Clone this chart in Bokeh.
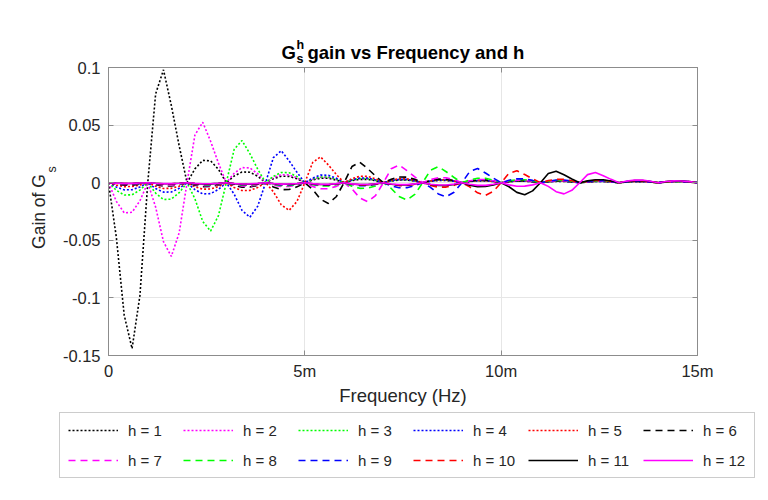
from bokeh.plotting import figure
from bokeh.layouts import column, row
from bokeh.models import Legend, LegendItem, LinearAxis, FixedTicker, Range1d
from bokeh.core.properties import value
from bokeh.embed import file_html
from bokeh.resources import INLINE

# ---- data (frequency in mHz, gain) ----
freq_mhz = [0, 0.2, 0.4, 0.6, 0.8, 1, 1.2, 1.4, 1.6, 1.8, 2, 2.2, 2.4, 2.6, 2.8,
            3, 3.2, 3.4, 3.6, 3.8, 4, 4.2, 4.4, 4.6, 4.8, 5, 5.2, 5.4, 5.6, 5.8,
            6, 6.2, 6.4, 6.6, 6.8, 7, 7.2, 7.4, 7.6, 7.8, 8, 8.2, 8.4, 8.6, 8.8,
            9, 9.2, 9.4, 9.6, 9.8, 10, 10.2, 10.4, 10.6, 10.8, 11, 11.2, 11.4, 11.6, 11.8,
            12, 12.2, 12.4, 12.6, 12.8, 13, 13.2, 13.4, 13.6, 13.8, 14, 14.2, 14.4, 14.6, 14.8, 15]

gain_h1 = [0, -0.0475, -0.115, -0.144, -0.098, 0, 0.077, 0.098, 0.067, 0.032,
           0, 0.012, 0.0194, 0.019, 0.0116, 0, 0.0058, 0.0093, 0.0091, 0.0056,
           0, 0.0035, 0.0056, 0.0055, 0.0034, 0, 0.0024, 0.0039, 0.0038, 0.0023,
           0, 0.0018, 0.0029, 0.0029, 0.0017, 0, 0.0014, 0.0023, 0.0023, 0.0014,
           0, 0.0012, 0.0019, 0.0019, 0.0012, 0, 0.001, 0.0016, 0.0016, 0.001,
           0, 0.0008, 0.0014, 0.0013, 0.0008, 0, 0.0007, 0.0012, 0.0011, 0.0007,
           0, 0.0006, 0.001, 0.001, 0.0006, 0, 0.0005, 0.0009, 0.0009, 0.0005,
           0, 0.0005, 0.0008, 0.0008, 0.0005, 0]
gain_h2 = [0, -0.0162, -0.0262, -0.0257, -0.0157, 0, -0.0211, -0.0512, -0.064, -0.0435,
           0, 0.0413, 0.0525, 0.036, 0.017, 0, 0.0081, 0.0131, 0.0128, 0.0078,
           0, 0.0043, 0.007, 0.0068, 0.0042, 0, 0.0029, 0.0047, 0.0046, 0.0028,
           0, 0.0021, 0.0034, 0.0033, 0.002, 0, 0.0016, 0.0026, 0.0026, 0.0016,
           0, 0.0013, 0.0021, 0.0021, 0.0013, 0, 0.0011, 0.0017, 0.0017, 0.001,
           0, 0.0009, 0.0015, 0.0014, 0.0009, 0, 0.0008, 0.0013, 0.0012, 0.0008,
           0, 0.0007, 0.0011, 0.001, 0.0006, 0, 0.0006, 0.001, 0.001, 0.0006,
           0, 0.0005, 0.0009, 0.0009, 0.0005, 0]
gain_h3 = [0, -0.0066, -0.0107, -0.0105, -0.0064, 0, -0.009, -0.0146, -0.0143, -0.0087,
           0, -0.0139, -0.0336, -0.042, -0.0286, 0, 0.0289, 0.0366, 0.0252, 0.0118,
           0, 0.0055, 0.0089, 0.0087, 0.0053, 0, 0.0031, 0.005, 0.0049, 0.003,
           0, 0.0022, 0.0036, 0.0035, 0.0021, 0, 0.0017, 0.0027, 0.0027, 0.0016,
           0, 0.0014, 0.0022, 0.0022, 0.0013, 0, 0.0011, 0.0018, 0.0018, 0.0011,
           0, 0.001, 0.0016, 0.0015, 0.0009, 0, 0.0008, 0.0013, 0.0012, 0.0008,
           0, 0.0007, 0.0012, 0.0011, 0.0007, 0, 0.0006, 0.001, 0.001, 0.0006,
           0, 0.0005, 0.0009, 0.0009, 0.0005, 0]
gain_h4 = [0, -0.0038, -0.0062, -0.0061, -0.0037, 0, -0.0051, -0.0082, -0.0081, -0.0049,
           0, -0.006, -0.0097, -0.0095, -0.0058, 0, -0.0099, -0.024, -0.030, -0.0204,
           0, 0.0218, 0.0277, 0.019, 0.009, 0, 0.0041, 0.0066, 0.0065, 0.0039,
           0, 0.0025, 0.0041, 0.004, 0.0024, 0, 0.0018, 0.0029, 0.0029, 0.0017,
           0, 0.0014, 0.0023, 0.0023, 0.0014, 0, 0.0012, 0.0019, 0.0019, 0.0012,
           0, 0.001, 0.0016, 0.0015, 0.0009, 0, 0.0008, 0.0014, 0.0013, 0.0008,
           0, 0.0007, 0.0012, 0.0011, 0.0007, 0, 0.0007, 0.0011, 0.001, 0.0006,
           0, 0.0006, 0.001, 0.001, 0.0006, 0]
gain_h5 = [0, -0.0021, -0.0034, -0.0033, -0.002, 0, -0.0031, -0.005, -0.0049, -0.003,
           0, -0.0035, -0.0056, -0.0055, -0.0034, 0, -0.0042, -0.0068, -0.0067, -0.0041,
           0, -0.0079, -0.0192, -0.024, -0.0163, 0, 0.0176, 0.0224, 0.0154, 0.0072,
           0, 0.0035, 0.0056, 0.0055, 0.0034, 0, 0.0022, 0.0035, 0.0034, 0.0021,
           0, 0.0016, 0.0026, 0.0026, 0.0016, 0, 0.0013, 0.002, 0.002, 0.0012,
           0, 0.0011, 0.0017, 0.0017, 0.001, 0, 0.0009, 0.0015, 0.0014, 0.0009,
           0, 0.0008, 0.0013, 0.0012, 0.0008, 0, 0.0007, 0.0011, 0.001, 0.0006,
           0, 0.0006, 0.001, 0.001, 0.0006, 0]
gain_h6 = [0, -0.0013, -0.0021, -0.0021, -0.0013, 0, -0.0018, -0.0029, -0.0029, -0.0017,
           0, -0.0021, -0.0034, -0.0033, -0.002, 0, -0.0024, -0.0039, -0.0038, -0.0023,
           0, -0.0037, -0.006, -0.0059, -0.0036, 0, -0.0059, -0.0144, -0.018, -0.0122,
           0, 0.014, 0.0178, 0.0122, 0.0058, 0, 0.003, 0.0049, 0.0048, 0.0029,
           0, 0.0019, 0.0031, 0.003, 0.0019, 0, 0.0014, 0.0023, 0.0023, 0.0014,
           0, 0.0011, 0.0018, 0.0018, 0.0011, 0, 0.001, 0.0016, 0.0015, 0.0009,
           0, 0.0008, 0.0014, 0.0013, 0.0008, 0, 0.0007, 0.0012, 0.0011, 0.0007,
           0, 0.0007, 0.0011, 0.001, 0.0006, 0]
gain_h7 = [0, -0.001, -0.0016, -0.0015, -0.0009, 0, -0.0013, -0.0021, -0.0021, -0.0013,
           0, -0.0016, -0.0025, -0.0025, -0.0015, 0, -0.0018, -0.0029, -0.0029, -0.0017,
           0, -0.002, -0.0033, -0.0032, -0.002, 0, -0.0033, -0.0053, -0.0052, -0.0032,
           0, -0.0054, -0.0132, -0.0165, -0.0112, 0, 0.0121, 0.0153, 0.0105, 0.005,
           0, 0.0027, 0.0044, 0.0043, 0.0026, 0, 0.0017, 0.0028, 0.0028, 0.0017,
           0, 0.0013, 0.0021, 0.0021, 0.0013, 0, 0.0011, 0.0017, 0.0017, 0.001,
           0, 0.0009, 0.0015, 0.0014, 0.0009, 0, 0.0008, 0.0013, 0.0012, 0.0008,
           0, 0.0007, 0.0011, 0.001, 0.0006, 0]
gain_h8 = [0, -0.0007, -0.0012, -0.0011, -0.0007, 0, -0.001, -0.0016, -0.0016, -0.001,
           0, -0.0012, -0.0019, -0.0019, -0.0012, 0, -0.0014, -0.0022, -0.0022, -0.0013,
           0, -0.0016, -0.0025, -0.0025, -0.0015, 0, -0.0018, -0.0029, -0.0029, -0.0017,
           0, -0.003, -0.0049, -0.0048, -0.0029, 0, -0.005, -0.012, -0.015, -0.0102,
           0, 0.0109, 0.0139, 0.0095, 0.0045, 0, 0.0024, 0.0039, 0.0038, 0.0023,
           0, 0.0016, 0.0026, 0.0026, 0.0016, 0, 0.0012, 0.0019, 0.0019, 0.0012,
           0, 0.001, 0.0016, 0.0015, 0.0009, 0, 0.0008, 0.0014, 0.0013, 0.0008,
           0, 0.0007, 0.0012, 0.0011, 0.0007, 0]
gain_h9 = [0, -0.0006, -0.001, -0.001, -0.0006, 0, -0.0008, -0.0014, -0.0013, -0.0008,
           0, -0.001, -0.0016, -0.0015, -0.0009, 0, -0.0011, -0.0017, -0.0017, -0.001,
           0, -0.0012, -0.0019, -0.0019, -0.0012, 0, -0.0014, -0.0022, -0.0022, -0.0013,
           0, -0.0016, -0.0026, -0.0026, -0.0016, 0, -0.0027, -0.0044, -0.0043, -0.0026,
           0, -0.004, -0.0098, -0.0122, -0.0083, 0, 0.0097, 0.0123, 0.0084, 0.004,
           0, 0.0021, 0.0034, 0.0033, 0.002, 0, 0.0014, 0.0023, 0.0023, 0.0014,
           0, 0.0011, 0.0017, 0.0017, 0.001, 0, 0.0009, 0.0015, 0.0014, 0.0009,
           0, 0.0008, 0.0013, 0.0012, 0.0008, 0]
gain_h10 = [0, -0.0005, -0.0008, -0.0008, -0.0005, 0, -0.0007, -0.0011, -0.001, -0.0006,
            0, -0.0008, -0.0013, -0.0012, -0.0008, 0, -0.0009, -0.0015, -0.0014, -0.0009,
            0, -0.001, -0.0016, -0.0016, -0.001, 0, -0.0011, -0.0018, -0.0018, -0.0011,
            0, -0.0013, -0.0021, -0.0021, -0.0013, 0, -0.0016, -0.0025, -0.0025, -0.0015,
            0, -0.0024, -0.0039, -0.0038, -0.0023, 0, -0.0036, -0.0088, -0.011, -0.0075,
            0, 0.0082, 0.0104, 0.0071, 0.0034, 0, 0.0018, 0.0029, 0.0029, 0.0017,
            0, 0.0013, 0.002, 0.002, 0.0012, 0, 0.001, 0.0016, 0.0015, 0.0009,
            0, 0.0008, 0.0014, 0.0013, 0.0008, 0]
gain_h11 = [0, -0.0004, -0.0007, -0.0007, -0.0004, 0, -0.0005, -0.0009, -0.0009, -0.0005,
            0, -0.0007, -0.0011, -0.001, -0.0006, 0, -0.0008, -0.0013, -0.0012, -0.0008,
            0, -0.0008, -0.0014, -0.0013, -0.0008, 0, -0.001, -0.0016, -0.0015, -0.0009,
            0, -0.0011, -0.0017, -0.0017, -0.001, 0, -0.0013, -0.002, -0.002, -0.0012,
            0, -0.0015, -0.0024, -0.0024, -0.0015, 0, -0.0021, -0.0034, -0.0033, -0.002,
            0, -0.0035, -0.0084, -0.0105, -0.0071, 0, 0.0079, 0.01, 0.0069, 0.0032,
            0, 0.0016, 0.0025, 0.0025, 0.0015, 0, 0.0011, 0.0018, 0.0018, 0.0011,
            0, 0.0009, 0.0015, 0.0014, 0.0009, 0]
gain_h12 = [0, -0.0004, -0.0006, -0.0006, -0.0003, 0, -0.0005, -0.0008, -0.0008, -0.0005,
            0, -0.0005, -0.0009, -0.0009, -0.0005, 0, -0.0007, -0.0011, -0.001, -0.0006,
            0, -0.0007, -0.0012, -0.0011, -0.0007, 0, -0.0008, -0.0014, -0.0013, -0.0008,
            0, -0.001, -0.0016, -0.0015, -0.0009, 0, -0.0011, -0.0017, -0.0017, -0.001,
            0, -0.0013, -0.002, -0.002, -0.0012, 0, -0.0014, -0.0023, -0.0023, -0.0014,
            0, -0.0019, -0.0031, -0.003, -0.0019, 0, -0.0032, -0.0078, -0.0097, -0.0066,
            0, 0.007, 0.0089, 0.0061, 0.0029, 0, 0.0014, 0.0022, 0.0022, 0.0013,
            0, 0.001, 0.0016, 0.0015, 0.0009, 0]

series = [gain_h1, gain_h2, gain_h3, gain_h4, gain_h5, gain_h6,
          gain_h7, gain_h8, gain_h9, gain_h10, gain_h11, gain_h12]
labels = ["h = %d" % (i + 1) for i in range(12)]
colors = ["#000000", "#FF00FF", "#00FF00", "#0000FF", "#FF0000", "#000000",
          "#FF00FF", "#00FF00", "#0000FF", "#FF0000", "#000000", "#FF00FF"]
dashes = ["2 2"] * 5 + ["7 5"] * 5 + ["solid"] * 2

x_ticks = [0, 5, 10, 15]
x_tick_labels = ["0", "5m", "10m", "15m"]
y_ticks = [-0.15, -0.1, -0.05, 0, 0.05, 0.1]
y_tick_labels = ["-0.15", "-0.1", "-0.05", "0", "0.05", "0.1"]

FONT = "Liberation Sans"
TXT = "#262626"
AX = "#8c8c8c"


def blank(width, height, x0=0, y0=0, transparent=False):
    f = figure(width=width, height=height,
               x_range=Range1d(x0, x0 + width), y_range=Range1d(y0, y0 + height),
               min_border=0, x_axis_type=None, y_axis_type=None,
               output_backend="svg", toolbar_location=None, tools="")
    f.title.visible = False
    f.outline_line_color = None
    f.grid.visible = False
    if transparent:
        f.background_fill_alpha = 0
        f.border_fill_alpha = 0
    else:
        f.background_fill_color = "white"
        f.border_fill_color = "white"
    return f


def txt(f, x, y, s, size, bold=False, angle=0.0, align="left", baseline="alphabetic"):
    f.text(x=[x], y=[y], text=[s], text_font=value(FONT), text_font_size=value(size),
           text_font_style="bold" if bold else "normal",
           text_color="#000000" if bold else TXT, angle=angle,
           text_align=align, text_baseline=baseline)


# ---- main plot (page 0..768 x 0..410) ----
p = figure(width=768, height=410,
           min_border_left=108, min_border_right=71, min_border_top=67, min_border_bottom=55,
           x_range=Range1d(0, 15), y_range=Range1d(-0.15, 0.1),
           output_backend="svg", toolbar_location=None, tools="")
p.title.visible = False
p.background_fill_color = "white"
p.border_fill_color = "white"
p.outline_line_color = AX
p.outline_line_width = 1

for ys, col, dsh in zip(series, colors, dashes):
    p.line(freq_mhz, ys, line_color=col, line_width=1.6, line_dash=dsh)

ax = p.xaxis[0]
ax.ticker = FixedTicker(ticks=x_ticks)
ax.major_label_overrides = {float(t): l for t, l in zip(x_ticks, x_tick_labels)}
ax.axis_label = "Frequency (Hz)"
ax.axis_label_standoff = 2
ax.major_label_standoff = 6
ay = p.yaxis[0]
ay.ticker = FixedTicker(ticks=y_ticks)
ay.major_label_overrides = {float(t): l for t, l in zip(y_ticks, y_tick_labels)}
ay.axis_label = "Gain of G"
ay.axis_label_standoff = 11
ay.major_label_standoff = 8
for a in (ax, ay):
    a.axis_label_text_font = FONT
    a.axis_label_text_font_size = "17.5px" if a is ay else "18.5px"
    a.axis_label_text_font_style = "normal"
    a.axis_label_text_color = TXT
    a.major_label_text_font = FONT
    a.major_label_text_font_size = "16.5px"
    a.major_label_text_color = TXT
    a.major_tick_in = 5
    a.major_tick_out = 0
    a.minor_tick_line_color = None
    a.axis_line_color = AX
    a.major_tick_line_color = AX

top = LinearAxis(ticker=FixedTicker(ticks=x_ticks), major_label_text_font_size="1px",
                 major_label_text_color=None, major_label_standoff=0,
                 major_tick_in=5, major_tick_out=0,
                 minor_tick_line_color=None, axis_line_color=AX, major_tick_line_color=AX)
right = LinearAxis(ticker=FixedTicker(ticks=y_ticks), major_label_text_font_size="1px",
                   major_label_text_color=None, major_label_standoff=0,
                   major_tick_in=5, major_tick_out=0,
                   minor_tick_line_color=None, axis_line_color=AX, major_tick_line_color=AX)
p.add_layout(top, "above")
p.add_layout(right, "right")

p.xgrid.ticker = FixedTicker(ticks=x_ticks)
p.ygrid.ticker = FixedTicker(ticks=y_ticks)
p.xgrid.grid_line_color = "#e6e6e6"
p.ygrid.grid_line_color = "#e6e6e6"

# ---- legend strip (page y 410..500); its ranges keep the sample lines off-canvas ----
leg_fig = blank(768, 90, x0=1000, y0=1000)
items = []
for ys, lab, col, dsh in zip(series, labels, colors, dashes):
    r = leg_fig.line(freq_mhz, ys, line_color=col, line_width=1.6, line_dash=dsh)
    items.append(LegendItem(label=lab, renderers=[r]))
legend = Legend(items=items, ncols=6, orientation="horizontal", location=(59, 22),
                glyph_width=50, glyph_height=18, label_width=43, label_height=18,
                label_standoff=10, spacing=12, padding=8, margin=0,
                border_line_color="#999999", border_line_width=1.5,
                label_text_font=FONT, label_text_font_size="15px", label_text_color=TXT,
                background_fill_color="white", background_fill_alpha=1.0)
leg_fig.add_layout(legend)

# ---- transparent overlay (whole page, pixel coordinates, y up) for title and subscripts ----
over = blank(768, 500, transparent=True)
over.margin = (-500, 0, 0, 0)
txt(over, 281, 500 - 52, "G", "18.5px", bold=True)
txt(over, 296, 500 - 44, "h", "12.5px", bold=True)
txt(over, 296, 500 - 58.5, "s", "12.5px", bold=True)
txt(over, 307, 500 - 52, "gain vs Frequency and h", "18.5px", bold=True)
txt(over, 51, 500 - 169, "s", "12.5px", angle=1.5708, align="center", baseline="middle")

# the main plot sits in its own row so its frame is not aligned with the strips below
layout = column(row(p), leg_fig, over)
open("out.html", "w").write(file_html(layout, INLINE))
